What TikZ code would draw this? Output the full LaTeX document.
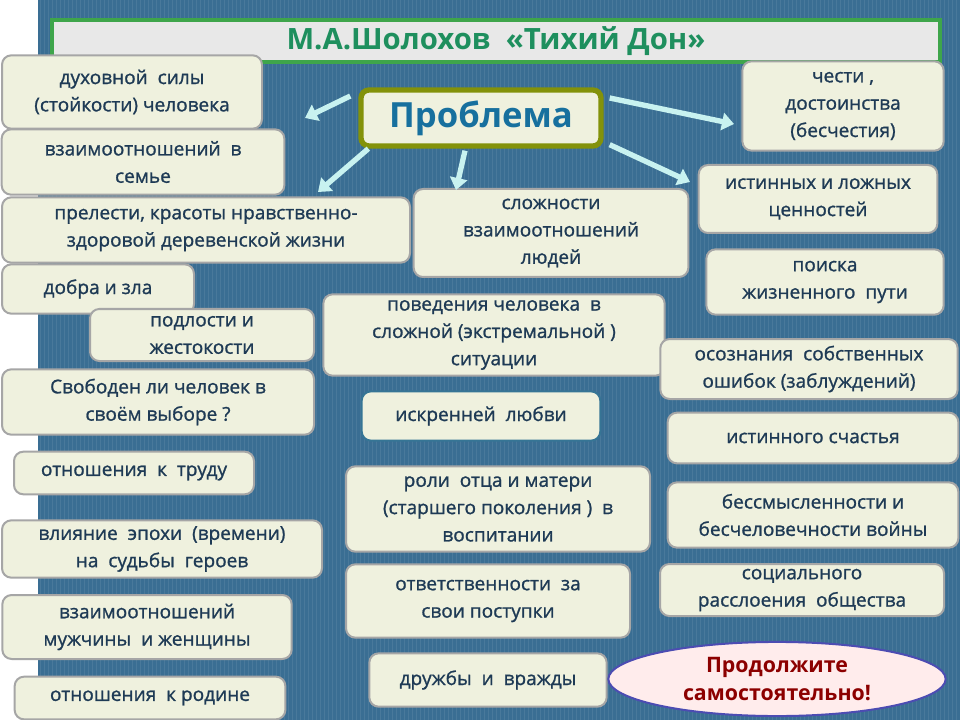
\documentclass[tikz,border=0pt]{standalone}
\usepackage{fontspec}
\setmainfont{Open Sans}
\newfontfamily\semib[FakeBold=1.1]{Open Sans}
\usetikzlibrary{arrows.meta}
\usetikzlibrary{shapes}
\definecolor{bgblue}{HTML}{3A6E93}
\definecolor{boxfill}{HTML}{EFF1DE}
\definecolor{boxtext}{HTML}{1E3A55}
\definecolor{titlegreen}{HTML}{1E8F5E}
\definecolor{probblue}{HTML}{17709E}
\definecolor{arrowcyan}{HTML}{C8F2F0}
\begin{document}
\begin{tikzpicture}[x=0.75pt,y=-0.75pt,
    box/.style={draw=gray!70, line width=1.5pt, rounded corners=7pt, fill=boxfill, text=boxtext,
      align=center, font=\semib\fontsize{14.3}{20.5}\selectfont, inner sep=2pt},
    link/.style={draw=arrowcyan, line width=4pt, -{Triangle[length=9pt,width=13pt]}}]
        \useasboundingbox (0,0) rectangle (960,720);
        \fill[white] (0,0) rectangle (960,720);
        \fill[bgblue] (38,0) rectangle (960,720);
        \foreach \i in {40,44,...,960}
          \draw[white, opacity=0.08, line width=0.5pt] (\i,0) -- (\i,720);
        % title
        \node[draw=titlegreen!80!lime, line width=3pt, fill=gray!18, minimum width=666pt, minimum height=31pt,
          text=titlegreen, font=\fontsize{22}{26}\selectfont\bfseries] (title) at (496,41) {М.А.Шолохов\ \ «Тихий Дон»};
        \node[draw=olive!80!green, line width=4pt, rounded corners=6pt, fill=boxfill, minimum width=180pt, minimum height=42pt,
          text=probblue, font=\fontsize{26}{30}\selectfont\bfseries] (prob) at (481,118) {Проблема};
        % left column
        \node[box, minimum width=195pt, minimum height=55pt] (duh) at (132,92) {духовной\ \ силы\\(стойкости) человека};
        \node[box, minimum width=212pt, minimum height=49pt] (sem) at (143,162) {взаимоотношений\ \ в\\семье};
        \node[box, minimum width=306pt, minimum height=49pt] (prel) at (206,230) {прелести, красоты нравственно-\\здоровой деревенской жизни};
        \node[box, minimum width=144pt, minimum height=37pt] (dob) at (98,289) {добра и зла};
        \node[box, minimum width=168pt, minimum height=39pt] (podl) at (202,335) {подлости и\\жестокости};
        \node[box, minimum width=234pt, minimum height=49pt] (svob) at (158,402) {Свободен ли человек в\\своём выборе ?};
        \node[box, minimum width=180pt, minimum height=32pt] (trud) at (134,473) {отношения\ \ к\ \ труду};
        \node[box, minimum width=240pt, minimum height=43pt] (epoh) at (162,549) {влияние\ \ эпохи\ \ (времени)\\на\ \ судьбы\ \ героев};
        \node[box, minimum width=217pt, minimum height=48pt] (muzh) at (147,627) {взаимоотношений\\мужчины\ \ и женщины};
        \node[box, minimum width=203pt, minimum height=32pt] (rod) at (150,698) {отношения\ \ к родине};
        % middle column
        \node[box, minimum width=206pt, minimum height=66pt] (slozh) at (551,233) {сложности\\взаимоотношений\\людей};
        \node[box, minimum width=256pt, minimum height=61pt] (pov) at (494,335) {поведения человека\ \ в\\сложной (экстремальной )\\ситуации};
        \node[box, draw=probblue!70!gray, minimum width=179pt, minimum height=37pt] (lub) at (481,416) {искренней\ \ любви};
        \node[box, minimum width=228pt, minimum height=64pt] (otec) at (498,509) {роли\ \ отца и матери\\(старшего поколения )\ \ в\\воспитании};
        \node[box, minimum width=213pt, minimum height=55pt] (otv) at (488,601) {ответственности\ \ за\\свои поступки};
        \node[box, minimum width=178pt, minimum height=40pt] (druzh) at (488,680) {дружбы\ \ и\ \ вражды};
        % right column
        \node[box, minimum width=151pt, minimum height=67pt] (chest) at (843,106) {чести ,\\достоинства\\(бесчестия)};
        \node[box, minimum width=179pt, minimum height=51pt] (cen) at (818,199) {истинных и ложных\\ценностей};
        \node[box, minimum width=178pt, minimum height=49pt] (poisk) at (825,282) {поиска\\жизненного\ \ пути};
        \node[box, minimum width=223pt, minimum height=45pt] (osoz) at (809,369) {осознания\ \ собственных\\ошибок (заблуждений)};
        \node[box, minimum width=218pt, minimum height=38pt] (sch) at (813,438) {истинного счастья};
        \node[box, minimum width=218pt, minimum height=49pt] (bessm) at (813,515) {бессмысленности и\\бесчеловечности войны};
        \node[box, minimum width=213pt, minimum height=39pt] (soc) at (802,590) {социального\\расслоения\ \ общества};
        \node[ellipse, draw=gray!60!blue, line width=1.5pt, fill=pink!30, minimum width=253pt, minimum height=55pt,
          text=red!55!black, align=center, font=\fontsize{16}{21}\selectfont\bfseries] (cont) at (777,679) {Продолжите\\самостоятельно!};
        % arrows
        \coordinate (a1) at (305,118);
        \coordinate (a2) at (318,192);
        \coordinate (a3) at (456,190);
        \coordinate (a4) at (734,124);
        \coordinate (a5) at (690,182);
        \draw[link] (prob.west) ++(-8,-22) -- (a1);
        \draw[link] (prob.south west) ++(10,0) -- (a2);
        \draw[link] (prob.south) ++(-16,2) -- (a3);
        \draw[link] (prob.east) ++(6,-20) -- (a4);
        \draw[link] (prob.south east) ++(6,-4) -- (a5);
      \end{tikzpicture}
\end{document}
